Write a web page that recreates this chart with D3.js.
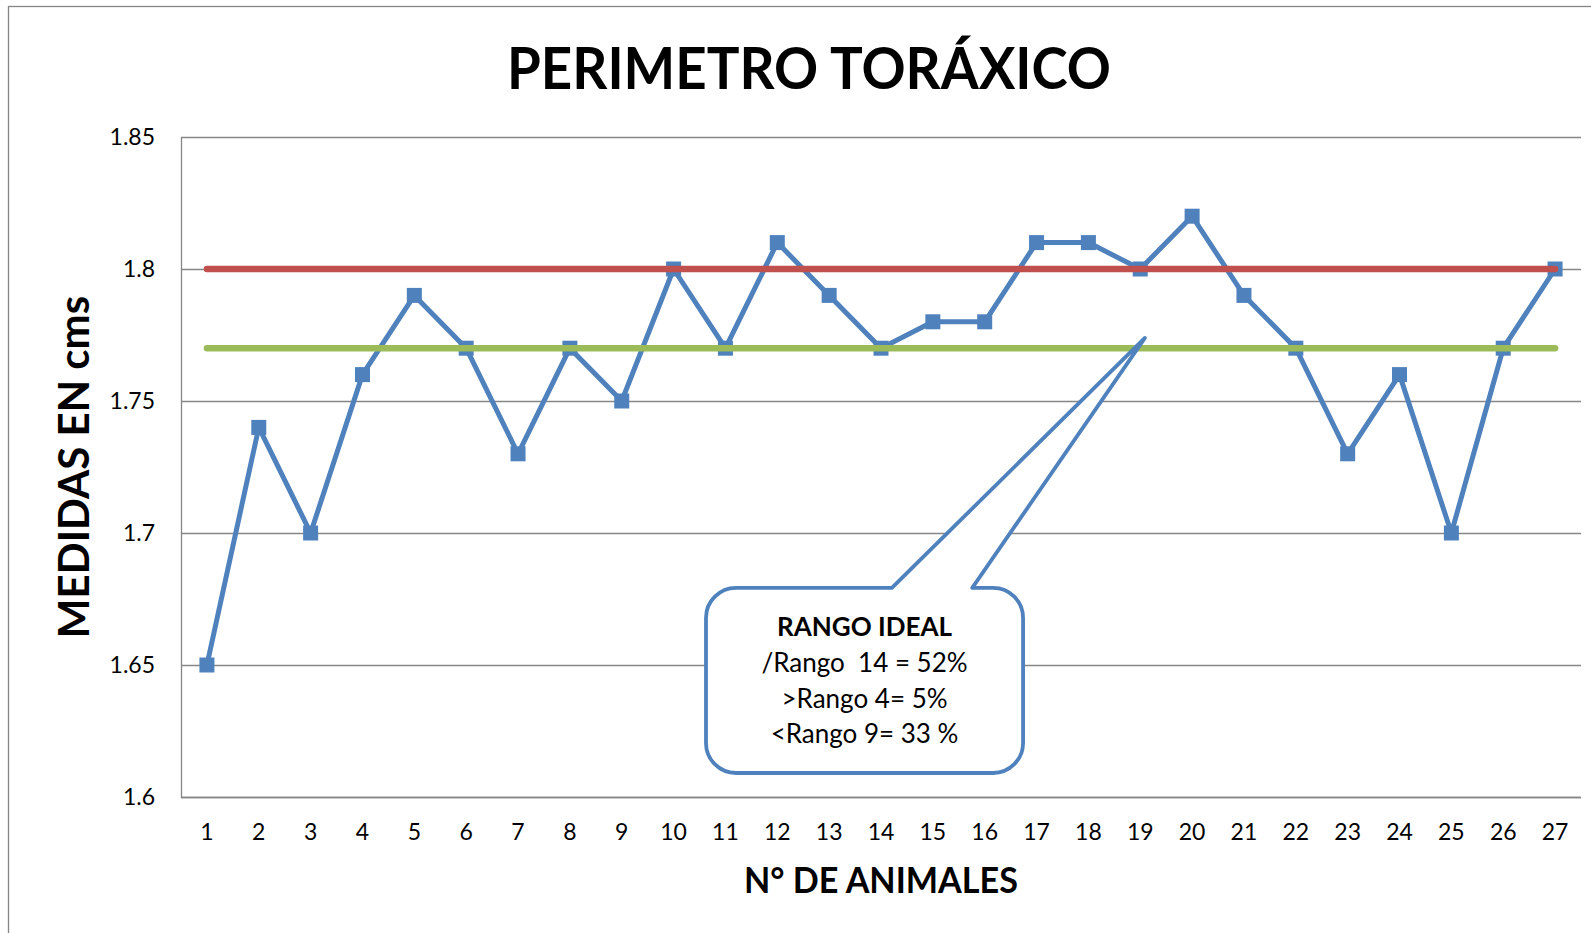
<!DOCTYPE html>
<html>
<head>
<meta charset="utf-8">
<script src="https://cdn.jsdelivr.net/npm/d3@7"></script>
<style>
  html, body { margin: 0; padding: 0; background: #fff; }
  svg { display: block; }
  text { font-family: Lato, "Open Sans", "DejaVu Sans", sans-serif; fill: #000; }
</style>
</head>
<body>
<svg id="chart" width="1591" height="933"></svg>
<script>
// ---- data ----
const categories = ["1","2","3","4","5","6","7","8","9","10","11","12","13","14","15","16","17","18","19","20","21","22","23","24","25","26","27"];
const medidas = [1.65,1.74,1.70,1.76,1.79,1.77,1.73,1.77,1.75,1.80,1.77,1.81,1.79,1.77,1.78,1.78,1.81,1.81,1.80,1.82,1.79,1.77,1.73,1.76,1.70,1.77,1.80];
const limiteSuperior = categories.map(() => 1.80);
const limiteInferior = categories.map(() => 1.77);
const yTicks = [1.6, 1.65, 1.7, 1.75, 1.8, 1.85];
const yTickLabels = ["1.6", "1.65", "1.7", "1.75", "1.8", "1.85"];
const titleText = "PERIMETRO TORÁXICO";
const yTitleText = "MEDIDAS EN cms";
const xTitleText = "N° DE ANIMALES";
const calloutLines = ["RANGO IDEAL", "/Rango  14 = 52%", ">Rango 4= 5%", "<Rango 9= 33 %"];
// callout anchor in data space: [category position, value]
const calloutBox = { left: 10.625, right: 16.74, top: 1.6792, bottom: 1.6091 };
const calloutPointer = { baseLeft: 14.21, baseRight: 15.76, tipX: 19.09, tipY: 1.7739 };

// ---- layout ----
const svg = d3.select("#chart");
const plot = { left: 181, right: 1581, top: 137, bottom: 797 };
const BLUE = "#4F81BD", RED = "#C0504D", GREEN = "#9BBB59", GRID = "#868686";

const x = d3.scaleBand().domain(categories).range([plot.left, plot.right]).padding(0);
const xc = c => x(c) + x.bandwidth() / 2;
const xi = d3.scaleLinear().domain([0.5, categories.length + 0.5]).range([plot.left, plot.right]);
const y = d3.scaleLinear().domain([1.6, 1.85]).range([plot.bottom, plot.top]);

// outer chart border
svg.append("rect").attr("x", 8.5).attr("y", 6.5).attr("width", 1700).attr("height", 1000)
  .attr("fill", "none").attr("stroke", GRID).attr("stroke-width", 1.3);

// gridlines
svg.append("g").selectAll("line").data(yTicks).join("line")
  .attr("x1", plot.left).attr("x2", plot.right)
  .attr("y1", d => Math.round(y(d)) + 0.5).attr("y2", d => Math.round(y(d)) + 0.5)
  .attr("stroke", GRID).attr("stroke-width", 1.3);

// axes lines
svg.append("line").attr("x1", plot.left + 0.5).attr("x2", plot.left + 0.5)
  .attr("y1", plot.top).attr("y2", plot.bottom + 1).attr("stroke", GRID).attr("stroke-width", 1.3);
svg.append("line").attr("x1", plot.left).attr("x2", plot.right)
  .attr("y1", plot.bottom + 0.5).attr("y2", plot.bottom + 0.5).attr("stroke", GRID).attr("stroke-width", 1.3);

// y axis
const yAxis = d3.axisLeft(y).tickValues(yTicks).tickSize(0).tickPadding(26)
  .tickFormat((d, i) => yTickLabels[i]);
const gy = svg.append("g").attr("transform", `translate(${plot.left},0)`).call(yAxis);
gy.select(".domain").remove();
gy.selectAll("text").style("font-family", "Lato, sans-serif").style("font-size", "23px").attr("fill", "#000");

// x axis
const xAxis = d3.axisBottom(x).tickSize(0).tickPadding(27);
const gx = svg.append("g").attr("transform", `translate(0,${plot.bottom})`).call(xAxis);
gx.select(".domain").remove();
gx.selectAll("text").style("font-family", "Lato, sans-serif").style("font-size", "23px").attr("fill", "#000");

// series line
const line = d3.line().x((d, i) => xc(categories[i])).y(d => y(d));
svg.append("path").datum(medidas).attr("d", line)
  .attr("fill", "none").attr("stroke", BLUE).attr("stroke-width", 5).attr("stroke-linejoin", "round");
const ms = 15;
svg.append("g").selectAll("rect").data(medidas).join("rect")
  .attr("x", (d, i) => xc(categories[i]) - ms / 2).attr("y", d => y(d) - ms / 2)
  .attr("width", ms).attr("height", ms).attr("fill", BLUE);

// reference lines
svg.append("path").datum(limiteSuperior).attr("d", line)
  .attr("fill", "none").attr("stroke", RED).attr("stroke-width", 6.5).attr("stroke-linecap", "round");
svg.append("path").datum(limiteInferior).attr("d", line)
  .attr("fill", "none").attr("stroke", GREEN).attr("stroke-width", 6.5).attr("stroke-linecap", "round");

// callout
{
  const L = xi(calloutBox.left), R = xi(calloutBox.right), T = y(calloutBox.top), B = y(calloutBox.bottom);
  const r = 30;
  const bl = xi(calloutPointer.baseLeft), br = xi(calloutPointer.baseRight);
  const tx = xi(calloutPointer.tipX), ty = y(calloutPointer.tipY);
  const p = d3.path();
  p.moveTo(L + r, T);
  p.lineTo(bl, T);
  p.lineTo(tx, ty);
  p.lineTo(br, T);
  p.lineTo(R - r, T);
  p.arcTo(R, T, R, T + r, r);
  p.lineTo(R, B - r);
  p.arcTo(R, B, R - r, B, r);
  p.lineTo(L + r, B);
  p.arcTo(L, B, L, B - r, r);
  p.lineTo(L, T + r);
  p.arcTo(L, T, L + r, T, r);
  p.closePath();
  svg.append("path").attr("d", p.toString()).attr("fill", "#fff")
    .attr("stroke", BLUE).attr("stroke-width", 3.8).attr("stroke-linejoin", "round");
  const cx = (L + R) / 2;
  const offs = [48, 84, 120, 155];
  svg.append("g").selectAll("text").data(calloutLines).join("text")
    .attr("x", cx).attr("y", (d, i) => T + offs[i])
    .attr("text-anchor", "middle")
    .style("white-space", "pre")
    .attr("xml:space", "preserve")
    .style("font-size", "26px")
    .style("font-weight", (d, i) => i === 0 ? "bold" : "normal")
    .text(d => d);
}

// titles
svg.append("text").attr("x", 809).attr("y", 89).attr("text-anchor", "middle")
  .attr("textLength", 604).attr("lengthAdjust", "spacingAndGlyphs")
  .style("font-size", "58px").style("font-weight", "bold").text(titleText);
svg.append("text").attr("transform", "translate(89,467) rotate(-90)").attr("text-anchor", "middle")
  .style("font-size", "42px").style("font-weight", "bold").text(yTitleText);
svg.append("text").attr("x", 881).attr("y", 893).attr("text-anchor", "middle")
  .attr("textLength", 274).attr("lengthAdjust", "spacingAndGlyphs")
  .style("font-size", "36px").style("font-weight", "bold").text(xTitleText);
</script>
</body>
</html>
